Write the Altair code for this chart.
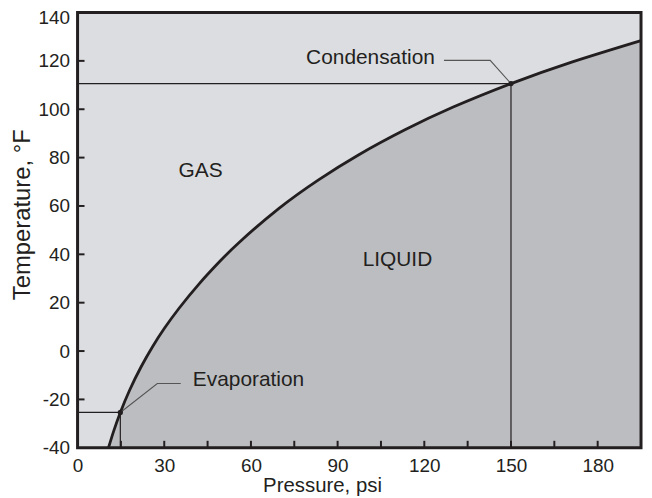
import altair as alt
import pandas as pd

# ---- data ----
pressure = [10.7, 12.5, 14.8, 18.0, 22.0, 26.0, 30.0, 35.0, 42.0, 49.0, 56.0, 69.6, 83.4,
            97.2, 113.3, 130.0, 150.0, 171.0, 195.0]
temperature = [-40.0, -33.1, -25.4, -16.2, -6.5, 1.9, 9.3, 17.5, 27.7, 36.8, 45.0, 58.9, 70.8,
               81.1, 91.5, 100.9, 110.6, 119.5, 128.4]

state_names = ["Evaporation", "Condensation"]
state_p = [14.8, 150.0]
state_t = [-25.4, 110.6]

region_text = ["GAS", "LIQUID"]
region_p = [42.6, 110.7]
region_t = [74.4, 37.8]

note_text = ["Evaporation", "Condensation"]
note_p = [39.9, 79.1]
note_t = [-12.0, 121.2]

leader_evap_p = [35.7, 27.6, 14.8]
leader_evap_t = [-13.4, -13.4, -25.4]
leader_cond_p = [126.8, 142.8, 150.0]
leader_cond_t = [120.2, 120.2, 110.6]

x_labels = [0, 30, 60, 90, 120, 150, 180]
y_labels = [-40, -20, 0, 20, 40, 60, 80, 100, 120, 140]
x_ticks = [15, 30, 45, 60, 75, 90, 105, 120, 135, 150, 165, 180]
y_ticks = [-20, 0, 20, 40, 60, 80, 100, 120]

X_MIN, X_MAX = 0, 195
Y_MIN, Y_MAX = -40, 140

# ---- styling ----
W, H = 567, 438
GAS = "#dcdde0"
LIQ = "#bcbdc1"
INK = "#231f20"
FONT = "Liberation Sans"

xs = alt.Scale(domain=[X_MIN, X_MAX], nice=False, zero=False)
ys = alt.Scale(domain=[Y_MIN, Y_MAX], nice=False, zero=False)

x_axis = alt.Axis(values=x_labels, title="Pressure, psi", ticks=False, tickSize=0,
                  domain=False, grid=False, labelPadding=8.5, labelFontSize=19,
                  labelFlush=False, labelExpr="'' + datum.value",
                  titleFontSize=20.5, titleFontWeight="normal",
                  titleX=246, titleY=44, titleAlign="center", titleBaseline="alphabetic")
y_axis = alt.Axis(values=y_labels, title="Temperature, °F", ticks=False, tickSize=0,
                  domain=False, grid=False, labelPadding=8, labelFontSize=19,
                  labelExpr="'' + datum.value",
                  titleFontSize=24, titleFontWeight="normal", titleX=-48, titleY=203,
                  titleAngle=270, titleAlign="center", titleBaseline="alphabetic",
                  labelOffset={"condition": {"test": "datum.value == 140", "value": 5}, "value": 0})


def X(f):
    return alt.X(f, type="quantitative", scale=xs, axis=x_axis)


def Y(f):
    return alt.Y(f, type="quantitative", scale=ys, axis=y_axis)


curve_df = pd.DataFrame({"p": pressure, "t": temperature})
pts_df = pd.DataFrame({"name": state_names, "p": state_p, "t": state_t})
guide_h = pd.DataFrame({"p0": [X_MIN] * len(state_p), "p1": state_p, "t": state_t})
guide_v = pd.DataFrame({"p": state_p, "t0": [Y_MIN] * len(state_t), "t1": state_t})
region_df = pd.DataFrame({"txt": region_text, "p": region_p, "t": region_t})
note_df = pd.DataFrame({"txt": note_text, "p": note_p, "t": note_t})
leader_df = pd.DataFrame({
    "p": leader_evap_p + leader_cond_p,
    "t": leader_evap_t + leader_cond_t,
    "g": ["e"] * 3 + ["c"] * 3,
    "o": [0, 1, 2] * 2,
})
xt_df = pd.DataFrame({"v": x_ticks})
yt_df = pd.DataFrame({"v": y_ticks})
frame_df = pd.DataFrame({"k": [0]})

area = alt.Chart(curve_df).mark_area(color=LIQ, interpolate="natural").encode(
    x=X("p"), y=Y("t"), y2=alt.datum(Y_MIN))

hline = alt.Chart(guide_h).mark_rule(color=INK, strokeWidth=1.2).encode(
    x=X("p0"), x2="p1", y=Y("t"))
vline = alt.Chart(guide_v).mark_rule(color=INK, strokeWidth=1.2).encode(
    x=X("p"), y=Y("t0"), y2="t1")

curve = alt.Chart(curve_df).mark_line(color=INK, strokeWidth=2.8, interpolate="natural").encode(
    x=X("p"), y=Y("t"))

leaders = alt.Chart(leader_df).mark_line(color="#555555", strokeWidth=1.1).encode(
    x=X("p"), y=Y("t"), detail="g", order="o")

points = alt.Chart(pts_df).mark_circle(color=INK, size=28, opacity=1).encode(
    x=X("p"), y=Y("t"))

regions = alt.Chart(region_df).mark_text(font=FONT, fontSize=21, color=INK, align="center",
                                         baseline="middle").encode(
    x=X("p"), y=Y("t"), text="txt")
notes = alt.Chart(note_df).mark_text(font=FONT, fontSize=21, color=INK, align="left",
                                     baseline="middle").encode(
    x=X("p"), y=Y("t"), text="txt")

xticks = alt.Chart(xt_df).mark_rule(color=INK, strokeWidth=2).encode(
    x=X("v"), y=alt.value(H), y2=alt.value(H - 7))
yticks = alt.Chart(yt_df).mark_rule(color=INK, strokeWidth=2).encode(
    y=Y("v"), x=alt.value(0), x2=alt.value(7))

frame = alt.Chart(frame_df).mark_rect(fillOpacity=0, stroke=INK, strokeWidth=3).encode(
    x=alt.value(0), x2=alt.value(W), y=alt.value(0), y2=alt.value(H))

chart = alt.layer(
    area, hline, vline, curve, leaders, points, regions, notes, xticks, yticks, frame
).properties(
    width=W, height=H,
    autosize=alt.AutoSizeParams(type="none"),
    padding={"left": 70, "top": 3, "right": 3, "bottom": 49},
).configure_view(
    fill=GAS, stroke=None
).configure_axis(
    labelFont=FONT, titleFont=FONT, labelColor=INK, titleColor=INK
)

chart.save("out.html", embed_options={"renderer": "svg", "actions": False})
